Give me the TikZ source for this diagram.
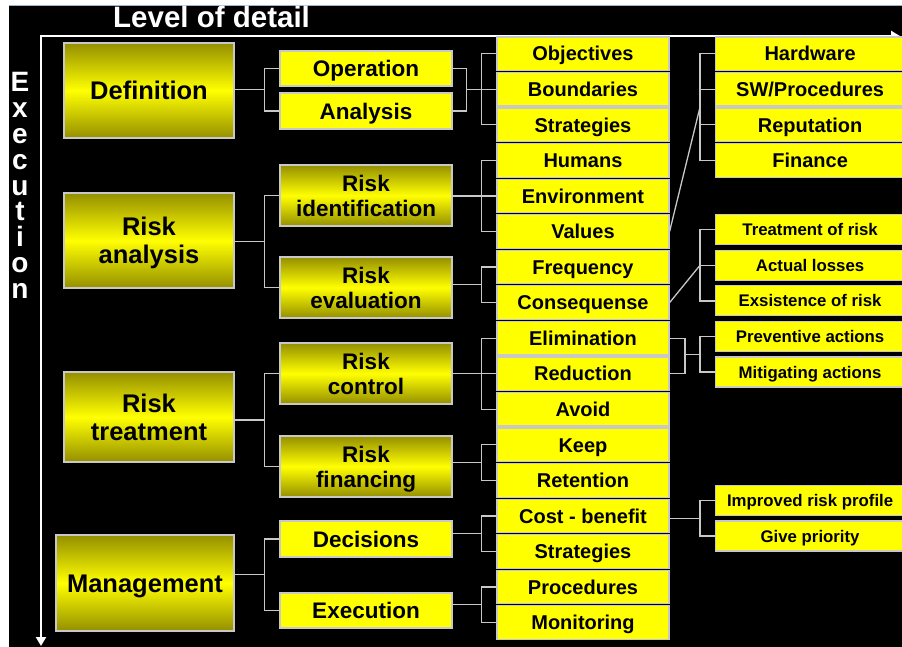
\documentclass[tikz,border=0pt]{standalone}
\usepackage{fontspec}
\setmainfont{Liberation Sans}
\usetikzlibrary{arrows.meta,calc}
\definecolor{yel}{HTML}{FFFF00}
\definecolor{olv}{HTML}{948F00}
\definecolor{edge}{HTML}{C8C8C8}
\definecolor{topline}{HTML}{9DB4D0}
\tikzset{
  >={Triangle[length=9pt,width=10pt]},
  box/.style={draw=edge,line width=1.2pt,inner sep=0pt,align=center,text=black,
    font=\bfseries\fontsize{20}{22}\selectfont,text height=14.4pt,text depth=0pt},
  topicbox/.style={box,top color=olv,bottom color=olv,middle color=yel,
    font=\bfseries\fontsize{25.5}{28}\selectfont,text height=18.4pt},
  twotopic/.style={topicbox,text height=46.4pt},
  subbox/.style={box,fill=yel,minimum width=172pt,font=\bfseries\fontsize{22.5}{25}\selectfont,text height=16.2pt},
  gsubbox/.style={subbox,top color=olv,bottom color=olv,middle color=yel,minimum height=61pt,text height=41.2pt},
  itembox/.style={box,fill=yel,minimum width=172pt,minimum height=33.5pt},
  detbox/.style={box,fill=yel,minimum width=189pt,minimum height=33.5pt,anchor=west},
  detsm/.style={detbox,minimum height=30pt,font=\bfseries\fontsize{16.8}{19}\selectfont,text height=12.1pt},
  link/.style={draw=edge,line width=1.3pt},
  axis/.style={<->,draw=white,line width=2.5pt},
}
% parent -> children through one bracket
\newcommand\tfork[4]{%
  \coordinate (j) at ($(#2.west)!.5!(#3.west)+(-15,0)$);
  \draw[link] (#1.east |- j) -- (j);
  \foreach \c in {#4} \draw[link] (j) |- (\c.west);}
% two boxes joined, then forked
\newcommand\tmerge[5]{%
  \coordinate (j) at ($(#3.west)!.5!(#4.west)+(-15,0)$);
  \coordinate (m) at ($(j)+(-15,0)$);
  \foreach \c in {#1,#2} \draw[link] (\c.east) -| (m);
  \draw[link] (m) -- (j);
  \foreach \c in {#5} \draw[link] (j) |- (\c.west);}
% slanted link into a bracket
\newcommand\tslant[4]{%
  \coordinate (j) at ($(#2.west)!.5!(#3.west)+(-15,0)$);
  \draw[link] (#1.east) -- (j);
  \foreach \c in {#4} \draw[link] (j) |- (\c.west);}

\begin{document}
\begin{tikzpicture}[x=1pt,y=-1pt]
\useasboundingbox (0,0) rectangle (902,647);
\fill[white] (0,0) rectangle (902,647);
\fill[black] (9,6) rectangle (902,647);
\draw[topline,line width=1.5pt] (9,5.5) -- (902,5.5);

% axes
\draw[axis] (900,36) -- (41,36) -- (41,646);
\node[anchor=base west,text=white,inner sep=0pt,font=\bfseries\fontsize{29.5}{30}\selectfont] (ttl) at (113,28) {Level of detail};
\node[anchor=north,text=white,align=center,inner sep=0pt,font=\bfseries\fontsize{28}{25.9}\selectfont] (exc) at (20,72) {E\\x\\e\\c\\u\\t\\i\\o\\n};

% level 1
\node[topicbox,minimum width=170pt,minimum height=95pt] (def) at (149,90.5) {Definition};
\node[twotopic,minimum width=170pt,minimum height=95pt] (ana) at (149,240.5) {Risk\\analysis};
\node[twotopic,minimum width=170pt,minimum height=90pt] (trt) at (149,417) {Risk\\treatment};
\node[topicbox,minimum width=178pt,minimum height=96pt] (mgt) at (145,583) {Management};

% level 2
\node[subbox,minimum height=35pt] (op) at (366,68.5) {Operation};
\node[subbox,minimum height=36pt] (an) at (366,111) {Analysis};
\node[gsubbox] (rid) at (366,195.5) {Risk\\identification};
\node[gsubbox] (rev) at (366,287.5) {Risk\\evaluation};
\node[gsubbox] (rco) at (366,373.5) {Risk\\control};
\node[gsubbox] (rfi) at (366,466.5) {Risk\\financing};
\node[subbox,minimum height=36pt] (dec) at (366,539) {Decisions};
\node[subbox,minimum height=35pt] (exe) at (366,610.5) {Execution};

% level 3
\foreach \n/\t [count=\i from 0] in {obj/Objectives,bnd/Boundaries,str/Strategies,hum/Humans,
    env/Environment,val/Values,frq/Frequency,csq/Consequense,elm/Elimination,red/Reduction,
    avd/Avoid,kep/Keep,ret/Retention,cbn/Cost - benefit,str2/Strategies,prc/Procedures,mon/Monitoring}
  \node[itembox] (\n) at (583,{53.75+35.55*\i}) {\t};

% level 4
\foreach \n/\t [count=\i from 0] in {hw/Hardware,sw/{SW/Procedures},rep/Reputation,fin/Finance}
  \node[detbox] (\n) at (715,{53.75+35.55*\i}) {\t};
\foreach \n/\t [count=\i from 5] in {tor/Treatment of risk,act/Actual losses,exr/Exsistence of risk,
    pva/Preventive actions,mga/Mitigating actions}
  \node[detsm] (\n) at (715,{52+35.55*\i}) {\t};
\node[detsm] (irp) at (715,500.5) {Improved risk profile};
\node[detsm] (gvp) at (715,536) {Give priority};

% connectors
\tfork{def}{op}{an}{op,an}
\tfork{ana}{rid}{rev}{rid,rev}
\tfork{trt}{rco}{rfi}{rco,rfi}
\tfork{mgt}{dec}{exe}{dec,exe}
\tmerge{op}{an}{obj}{str}{obj,bnd,str}
\tfork{rid}{hum}{val}{hum,env,val}
\tfork{rev}{frq}{csq}{frq,csq}
\tfork{rco}{elm}{avd}{elm,red,avd}
\tfork{rfi}{kep}{ret}{kep,ret}
\tfork{dec}{cbn}{str2}{cbn,str2}
\tfork{exe}{prc}{mon}{prc,mon}
\tslant{val}{hw}{fin}{hw,sw,rep,fin}
\tslant{csq}{tor}{exr}{tor,act,exr}
\tmerge{elm}{red}{pva}{mga}{pva,mga}
\tfork{cbn}{irp}{gvp}{irp,gvp}
\end{tikzpicture}
\end{document}
